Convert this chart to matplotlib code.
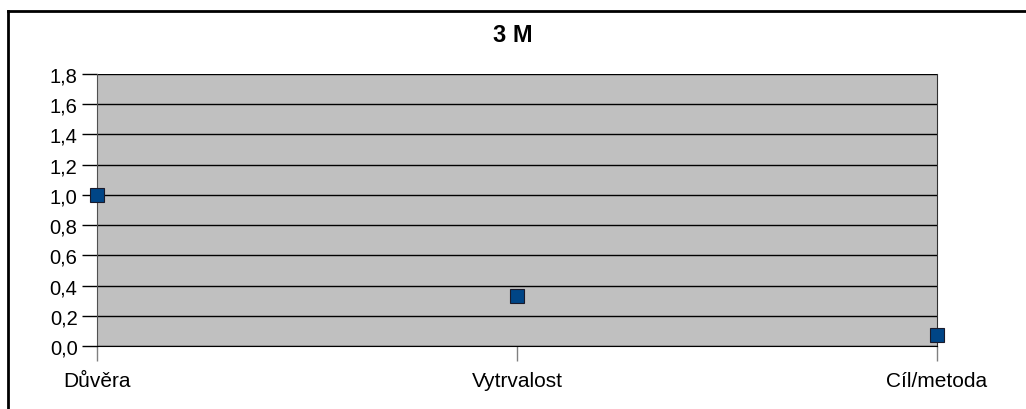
import matplotlib
matplotlib.use("Agg")
import matplotlib.pyplot as plt
from matplotlib.lines import Line2D

categories = ["Důvěra", "Vytrvalost", "Cíl/metoda"]
values = [1.0, 0.33, 0.07]
yticks = [0.0, 0.2, 0.4, 0.6, 0.8, 1.0, 1.2, 1.4, 1.6, 1.8]
ytick_labels = ["0,0", "0,2", "0,4", "0,6", "0,8", "1,0", "1,2", "1,4", "1,6", "1,8"]
title = "3 M"

plt.rcParams['font.family'] = ['Liberation Sans', 'DejaVu Sans']

W, H = 1026, 410
fig = plt.figure(figsize=(W / 100, H / 100), dpi=100)
ax = fig.add_axes([97 / W, 1 - 347 / H, (937 - 97) / W, (347 - 75) / H])
ax.set_facecolor("#c0c0c0")

x = list(range(len(categories)))
ax.plot(x, values, linestyle="none", marker="s", markersize=10,
        markerfacecolor="#004586", markeredgecolor="#1a1a2a", markeredgewidth=0.8,
        clip_on=False, zorder=5)

ax.set_xlim(0, len(categories) - 1)
ax.set_ylim(0, 1.8)
ax.set_yticks(yticks)
ax.set_yticklabels(ytick_labels, fontsize=14.5)
ax.set_xticks(x)
ax.set_xticklabels(categories, fontsize=15)
ax.yaxis.grid(True, color="black", linewidth=1)
ax.set_axisbelow(True)

ax.spines["top"].set_visible(False)
ax.spines["right"].set_color("#303030")
ax.spines["left"].set_color("#505050")
ax.spines["bottom"].set_color("black")
ax.tick_params(axis="y", direction="out", length=11, width=1, color="black", pad=3)
ax.tick_params(axis="x", direction="out", length=11, width=1, color="#808080", pad=7)

fig.text(0.5, 1 - 36 / H, title, ha="center", va="center", fontsize=17, fontweight="bold")

# outer frame
fig.add_artist(Line2D([8 / W, 1.0], [1 - 12 / H, 1 - 12 / H], transform=fig.transFigure,
                      color="black", linewidth=2))
fig.add_artist(Line2D([8 / W, 8 / W], [1 - 12 / H, 0], transform=fig.transFigure,
                      color="black", linewidth=2))

fig.savefig("out.png", dpi=100)
